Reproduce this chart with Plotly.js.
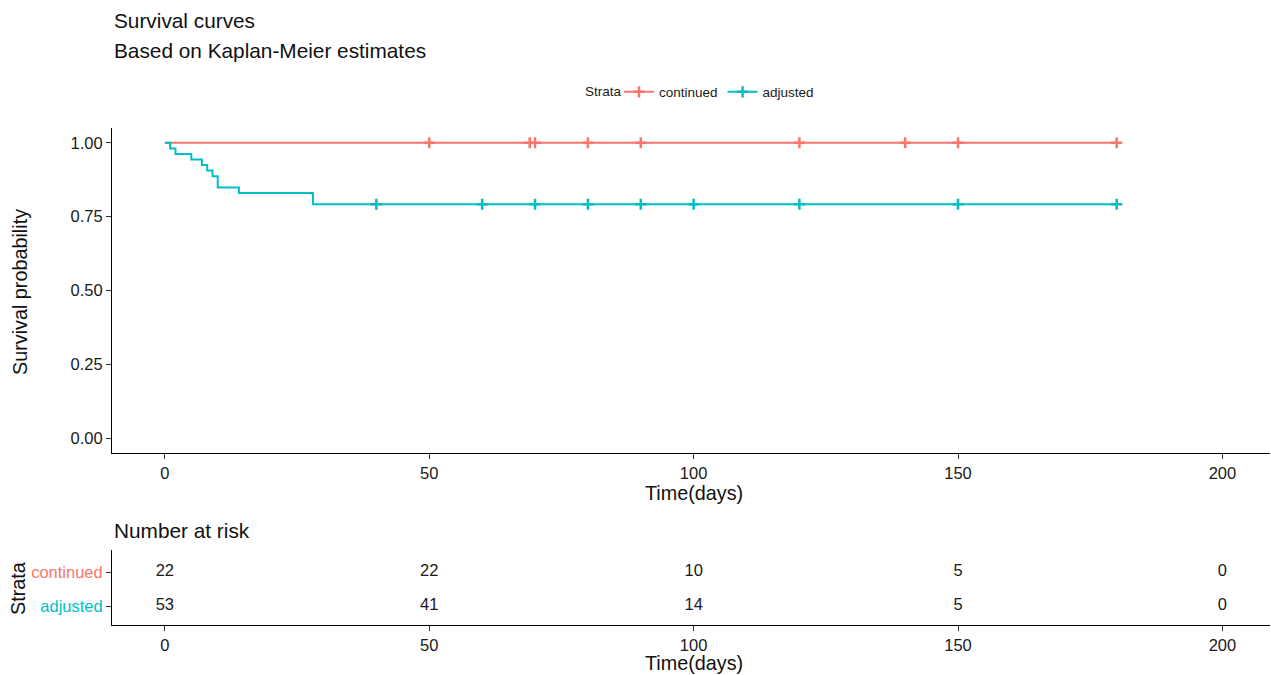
<!DOCTYPE html>
<html>
<head>
<meta charset="utf-8">
<script src="https://cdn.plot.ly/plotly-3.0.1.min.js"></script>
<style>html,body{margin:0;padding:0;background:#fff;}#chart{width:1271px;height:675px;}</style>
</head>
<body>
<div id="chart"></div>
<script>
// ---- data ----
const strata = ["continued", "adjusted"];
const colors = ["#F8766D", "#00BFC4"];

// step curve (time, survival) for each stratum
const contTimes = [0, 180];
const contSurv  = [1.0, 1.0];
const adjTimes  = [0, 1, 2, 5, 7, 8, 9, 10, 14, 28, 180];
const adjSurv   = [1.0, 0.981, 0.962, 0.943, 0.925, 0.906, 0.887, 0.849, 0.830, 0.792, 0.792];

// censoring times
const contCensor = [50, 69, 70, 80, 90, 120, 140, 150, 180];
const adjCensor  = [40, 60, 70, 80, 90, 100, 120, 150, 180];

// number at risk table
const riskTimes = [0, 50, 100, 150, 200];
const contRisk  = [22, 22, 10, 5, 0];
const adjRisk   = [53, 41, 14, 5, 0];

const xTicks = [0, 50, 100, 150, 200];
const yTicks = [0, 0.25, 0.5, 0.75, 1.0];
const yTickText = ["0.00", "0.25", "0.50", "0.75", "1.00"];

// ---- helpers ----
function survAt(times, surv, t) {
  let s = surv[0];
  for (let i = 0; i < times.length; i++) { if (times[i] <= t) s = surv[i]; }
  return s;
}
const W = 1271, H = 675, L = 112, R = 1;
const px = x => (x - L) / (W - L - R);
const py = y => (H - y) / H;

const FONT = "Liberation Sans, Arial, sans-serif";
const TXT = "#1a1a1a";

const traces = [];
const curves = [[contTimes, contSurv, contCensor], [adjTimes, adjSurv, adjCensor]];
curves.forEach((c, i) => {
  traces.push({
    x: c[0], y: c[1], type: "scatter", mode: "lines",
    line: {shape: "hv", color: colors[i], width: 2},
    xaxis: "x", yaxis: "y", showlegend: false, hoverinfo: "skip"
  });
  traces.push({
    x: c[2], y: c[2].map(t => survAt(c[0], c[1], t)), type: "scatter", mode: "markers",
    marker: {symbol: "cross-thin", size: 8, line: {color: colors[i], width: 2.5}, color: colors[i]},
    xaxis: "x", yaxis: "y", showlegend: false, hoverinfo: "skip"
  });
  // legend entry
  traces.push({
    x: [null], y: [null], type: "scatter", mode: "lines+markers", name: strata[i],
    line: {color: colors[i], width: 2},
    marker: {symbol: "cross-thin", size: 8, line: {color: colors[i], width: 2.5}, color: colors[i]},
    xaxis: "x", yaxis: "y", showlegend: true
  });
});

// risk table
const risks = [contRisk, adjRisk];
const rowPos = [2, 1];
risks.forEach((r, i) => {
  traces.push({
    x: riskTimes, y: riskTimes.map(() => rowPos[i]), text: r.map(String),
    type: "scatter", mode: "text", textposition: "middle center",
    textfont: {family: FONT, size: 16.5, color: TXT},
    xaxis: "x2", yaxis: "y2", showlegend: false, hoverinfo: "skip"
  });
});

const axisCommon = {
  showgrid: false, zeroline: false, showline: true, linecolor: "#000", linewidth: 1,
  ticks: "outside", ticklen: 5, tickcolor: "#333", tickwidth: 1,
  tickfont: {family: FONT, size: 16.5, color: TXT}
};

const layout = {
  width: W, height: H,
  paper_bgcolor: "#fff", plot_bgcolor: "#fff",
  margin: {l: L, r: R, t: 0, b: 0},
  font: {family: FONT},
  showlegend: true,
  legend: {
    orientation: "h", x: px(619), xanchor: "left", y: py(92), yanchor: "middle",
    font: {family: FONT, size: 13.5, color: TXT}, itemwidth: 30
  },
  xaxis: Object.assign({}, axisCommon, {
    domain: [0, 1], range: [-10, 209], tickvals: xTicks, anchor: "y"
  }),
  yaxis: Object.assign({}, axisCommon, {
    domain: [py(453), py(128)], range: [-0.05, 1.05], tickvals: yTicks, ticktext: yTickText, anchor: "x"
  }),
  xaxis2: Object.assign({}, axisCommon, {
    domain: [0, 1], range: [-10, 209], tickvals: xTicks, anchor: "y2"
  }),
  yaxis2: Object.assign({}, axisCommon, {
    domain: [py(625), py(550)], range: [0.45, 2.65], tickvals: rowPos,
    ticktext: strata.map((s, i) => '<span style="color:' + colors[i] + '">' + s + '</span>'),
    anchor: "x2"
  }),
  annotations: [
    {text: "Strata", x: px(583), y: py(92), xref: "paper", yref: "paper", xanchor: "left", yanchor: "middle", showarrow: false, font: {family: FONT, size: 13.5, color: TXT}},
    {text: "Survival curves", x: px(112), y: py(20), xref: "paper", yref: "paper", xanchor: "left", yanchor: "middle", showarrow: false, font: {family: FONT, size: 20.8, color: "#111"}},
    {text: "Based on Kaplan-Meier estimates", x: px(112), y: py(50), xref: "paper", yref: "paper", xanchor: "left", yanchor: "middle", showarrow: false, font: {family: FONT, size: 20.8, color: "#111"}},
    {text: "Survival probability", x: px(20), y: py(292), xref: "paper", yref: "paper", xanchor: "center", yanchor: "middle", textangle: -90, showarrow: false, font: {family: FONT, size: 19.8, color: "#111"}},
    {text: "Time(days)", x: px(694), y: py(493), xref: "paper", yref: "paper", xanchor: "center", yanchor: "middle", showarrow: false, font: {family: FONT, size: 19.8, color: "#111"}},
    {text: "Number at risk", x: px(112), y: py(530), xref: "paper", yref: "paper", xanchor: "left", yanchor: "middle", showarrow: false, font: {family: FONT, size: 20.8, color: "#111"}},
    {text: "Strata", x: px(18), y: py(588), xref: "paper", yref: "paper", xanchor: "center", yanchor: "middle", textangle: -90, showarrow: false, font: {family: FONT, size: 19.8, color: "#111"}},
    {text: "Time(days)", x: px(694), y: py(663), xref: "paper", yref: "paper", xanchor: "center", yanchor: "middle", showarrow: false, font: {family: FONT, size: 19.8, color: "#111"}}
  ]
};

Plotly.newPlot("chart", traces, layout, {displayModeBar: false, staticPlot: true});
</script>
</body>
</html>
